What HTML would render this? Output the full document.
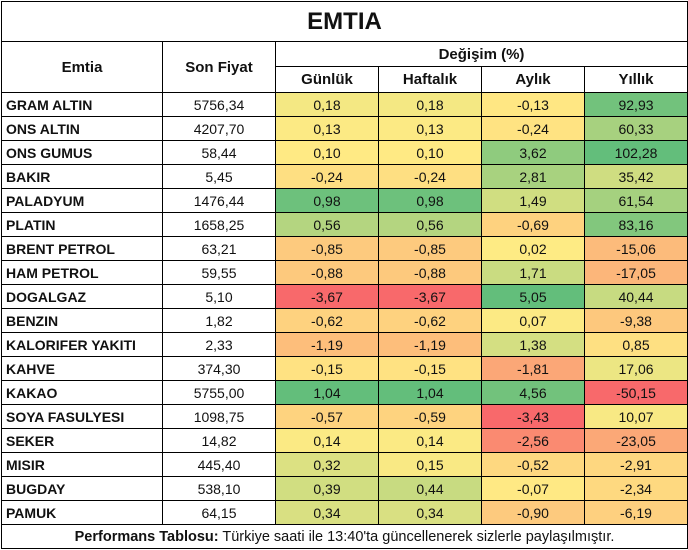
<!DOCTYPE html>
<html><head><meta charset="utf-8"><style>
body{margin:0;background:#fff;font-family:"Liberation Sans",sans-serif;}
table{position:absolute;left:1px;top:1px;border-collapse:collapse;table-layout:fixed;width:686px;}
td{border:1px solid #000;padding:0;height:23px;font-size:14px;text-align:center;color:#111;overflow:hidden;white-space:nowrap;}
td.n{text-align:left;font-weight:bold;padding-left:4px;}
.t{height:39px;font-size:24px;font-weight:bold;}
.h{font-weight:bold;font-size:15px;height:24px;}
.f{font-size:14.5px;height:23px;}
</style></head><body>
<table id="tb">
<colgroup><col style="width:161px"><col style="width:113px"><col style="width:103px"><col style="width:103px"><col style="width:103px"><col style="width:103px"></colgroup>
<tr><td class="t" colspan="6">EMTIA</td></tr>
<tr><td class="h" rowspan="2">Emtia</td><td class="h" rowspan="2">Son Fiyat</td><td class="h" colspan="4">Değişim (%)</td></tr>
<tr><td class="h" style="height:25px">Günlük</td><td class="h">Haftalık</td><td class="h">Aylık</td><td class="h">Yıllık</td></tr>
</table>
<script>
var d=[["GRAM ALTIN","5756,34",0.18,0.18,-0.13,92.93],["ONS ALTIN","4207,70",0.13,0.13,-0.24,60.33],["ONS GUMUS","58,44",0.10,0.10,3.62,102.28],["BAKIR","5,45",-0.24,-0.24,2.81,35.42],["PALADYUM","1476,44",0.98,0.98,1.49,61.54],["PLATIN","1658,25",0.56,0.56,-0.69,83.16],["BRENT PETROL","63,21",-0.85,-0.85,0.02,-15.06],["HAM PETROL","59,55",-0.88,-0.88,1.71,-17.05],["DOGALGAZ","5,10",-3.67,-3.67,5.05,40.44],["BENZIN","1,82",-0.62,-0.62,0.07,-9.38],["KALORIFER YAKITI","2,33",-1.19,-1.19,1.38,0.85],["KAHVE","374,30",-0.15,-0.15,-1.81,17.06],["KAKAO","5755,00",1.04,1.04,4.56,-50.15],["SOYA FASULYESI","1098,75",-0.57,-0.59,-3.43,10.07],["SEKER","14,82",0.14,0.14,-2.56,-23.05],["MISIR","445,40",0.32,0.15,-0.52,-2.91],["BUGDAY","538,10",0.39,0.44,-0.07,-2.34],["PAMUK","64,15",0.34,0.34,-0.90,-6.19]];
var R=[248,105,107],Y=[255,235,132],G=[99,190,123];
function mix(a,b,t){return "rgb("+a.map(function(v,i){return Math.round(v+(b[i]-v)*t)}).join(",")+")";}
var st=[];
for(var c=2;c<6;c++){var v=d.map(function(r){return r[c]}).sort(function(a,b){return a-b});var n=v.length;var med=(v[n/2-1]+v[n/2])/2;st.push([v[0],med,v[n-1]]);}
var tb=document.getElementById("tb"),h="";
d.forEach(function(r){h+="<tr><td class='n'>"+r[0]+"</td><td>"+r[1]+"</td>";
for(var c=2;c<6;c++){var s=st[c-2],x=r[c],col;
if(x<=s[1])col=mix(R,Y,(x-s[0])/(s[1]-s[0]||1));else col=mix(Y,G,(x-s[1])/(s[2]-s[1]||1));
h+="<td style='background:"+col+"'>"+x.toFixed(2).replace(".",",")+"</td>";}
h+="</tr>";});
h+="<tr><td class='f' colspan='6'><b>Performans Tablosu:</b> Türkiye saati ile 13:40'ta güncellenerek sizlerle paylaşılmıştır.</td></tr>";
tb.insertAdjacentHTML("beforeend",h);
</script>
</body></html>
